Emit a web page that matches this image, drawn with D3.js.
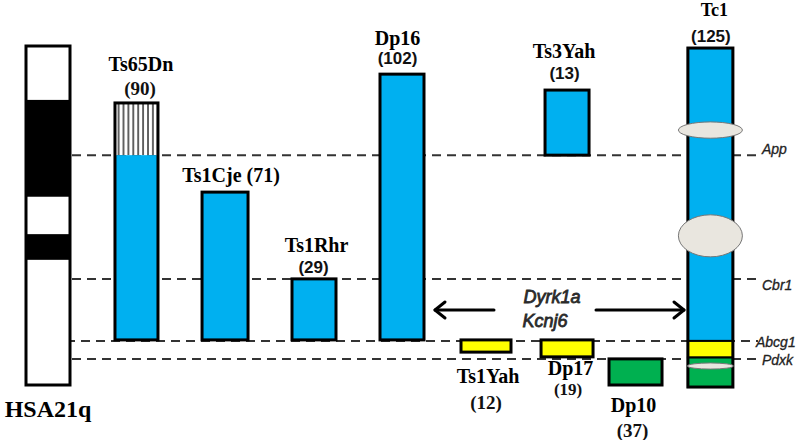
<!DOCTYPE html>
<html><head><meta charset="utf-8">
<script src="https://cdn.jsdelivr.net/npm/d3@7"></script>
<style>html,body{margin:0;padding:0;background:#fff}svg{display:block}</style>
</head><body>
<svg id="chart" width="800" height="440"></svg>
<script>
// ---------- DATA (relative position along HSA21q, 0 = top, 100 = telomere) ----------
const bandStart = [0, 15.9, 44.5, 55.5, 63.1];
const bandEnd   = [15.9, 44.5, 55.5, 63.1, 100];
const bandStain = ["gneg", "gpos", "gneg", "gpos", "gneg"];

const genes   = ["App", "Cbr1", "Abcg1", "Pdxk"];
const genePos = [32.2, 68.7, 87.0, 92.3];

const models     = ["Ts65Dn", "Ts1Cje", "Ts1Rhr", "Dp16", "Ts3Yah", "Tc1", "Ts1Yah", "Dp17", "Dp10"];
const geneCounts = [90, 71, 29, 102, 13, 125, 12, 19, 37];
const modelTrack = [17.06, 28.13, 39.25, 50.25, 70.88, 88.8, 60.75, 70.88, 79.44];
const regionStart= [16.8, 43.1, 68.7, 8.3, 13.0, 0.6, 86.7, 86.7, 92.3];
const regionEnd  = [86.7, 86.7, 86.7, 86.7, 32.2, 100.6, 90.3, 91.7, 100];

// segments (mouse chromosome origin of each trisomic piece)
const segModel = ["Ts65Dn", "Ts65Dn", "Ts1Cje", "Ts1Rhr", "Dp16", "Ts3Yah", "Tc1", "Tc1", "Tc1", "Ts1Yah", "Dp17", "Dp10"];
const segChr   = ["Mmu17cen", "Mmu16", "Mmu16", "Mmu16", "Mmu16", "Mmu16", "Mmu16", "Mmu17", "Mmu10", "Mmu17", "Mmu17", "Mmu10"];
const segStart = [16.8, 32.2, 43.1, 68.7, 8.3, 13.0, 0.6, 87.0, 91.9, 86.7, 86.7, 92.3];
const segEnd   = [32.2, 86.7, 86.7, 86.7, 86.7, 32.2, 87.0, 91.9, 100.6, 90.3, 91.7, 100];

// Tc1 deletions / rearrangements
const delPos  = [24.8, 56.0, 94.4];
const delHalf = [2.4, 6.2, 0.9];

const chromTrack = 6;
const chromLabel = "HSA21q";
const arrowGenes = ["Dyrk1a", "Kcnj6"];

// ---------- LAYOUT / STYLE ----------
const svg = d3.select("#chart");
const W = 800, H = 440;
const y = d3.scaleLinear().domain([0, 100]).range([46, 385]);
const x = d3.scaleLinear().domain([0, 100]).range([0, W]);
const serif = "'Liberation Serif','Times New Roman',serif";
const sans  = "'Liberation Sans',Arial,sans-serif";
const chrColor = {Mmu16: "#00b0f0", Mmu17: "#ffff00", Mmu10: "#00b050", Mmu17cen: "url(#hatch)"};
const stainColor = {gneg: "#ffffff", gpos: "#000000"};

const defs = svg.append("defs");
const pat = defs.append("pattern").attr("id", "hatch").attr("patternUnits", "userSpaceOnUse")
  .attr("width", 4.9).attr("height", 10);
pat.append("rect").attr("width", 4.9).attr("height", 10).attr("fill", "#fff");
pat.append("line").attr("x1", 1).attr("x2", 1).attr("y1", 0).attr("y2", 10)
  .attr("stroke", "#111").attr("stroke-width", 1.3);

// dashed gene lines
const lineStartX = [72, 72, 66, 72];
svg.append("g").selectAll("line").data(genes).join("line")
  .attr("x1", (d, i) => lineStartX[i]).attr("x2", 758)
  .attr("y1", (d, i) => y(genePos[i])).attr("y2", (d, i) => y(genePos[i]))
  .attr("stroke", "#333").attr("stroke-width", 2).attr("stroke-dasharray", "9,6");

// chromosome
const chromW = 44;
const cg = svg.append("g");
cg.selectAll("rect").data(bandStart).join("rect")
  .attr("x", x(chromTrack) - chromW / 2).attr("width", chromW)
  .attr("y", (d, i) => y(d)).attr("height", (d, i) => y(bandEnd[i]) - y(d))
  .attr("fill", (d, i) => stainColor[bandStain[i]]);
cg.append("rect").attr("x", x(chromTrack) - chromW / 2).attr("width", chromW)
  .attr("y", y(0)).attr("height", y(100) - y(0))
  .attr("fill", "none").attr("stroke", "#000").attr("stroke-width", 3);
svg.append("text").attr("x", x(chromTrack)).attr("y", 417).attr("text-anchor", "middle")
  .attr("font-family", serif).attr("font-weight", "bold").attr("font-size", 24).text(chromLabel);

// bar widths
const barW = {Ts65Dn: 43, Ts1Cje: 46, Ts1Rhr: 44, Dp16: 44, Ts3Yah: 44, Tc1: 45, Ts1Yah: 50, Dp17: 52, Dp10: 53};
const mIdx = m => models.indexOf(m);

// segments
svg.append("g").selectAll("rect").data(segModel).join("rect")
  .attr("x", m => x(modelTrack[mIdx(m)]) - barW[m] / 2).attr("width", m => barW[m])
  .attr("y", (m, i) => y(segStart[i])).attr("height", (m, i) => y(segEnd[i]) - y(segStart[i]))
  .attr("fill", (m, i) => chrColor[segChr[i]])
  .attr("stroke", "#000").attr("stroke-width", (m, i) => m === "Tc1" ? 2 : 0);

// outlines
svg.append("g").selectAll("rect").data(models).join("rect")
  .attr("x", (m, i) => x(modelTrack[i]) - barW[m] / 2).attr("width", m => barW[m])
  .attr("y", (m, i) => y(regionStart[i])).attr("height", (m, i) => y(regionEnd[i]) - y(regionStart[i]))
  .attr("fill", "none").attr("stroke", "#000").attr("stroke-width", 3);

// Tc1 deletions
const tc1 = mIdx("Tc1");
const delRx = [32, 32, 23];
svg.append("g").selectAll("ellipse").data(delPos).join("ellipse")
  .attr("cx", x(modelTrack[tc1])).attr("cy", d => y(d))
  .attr("rx", (d, i) => delRx[i]).attr("ry", (d, i) => y(delHalf[i]) - y(0))
  .attr("fill", "#e9e6df").attr("stroke", "#777").attr("stroke-width", 1);

// model labels: [nameDx, nameBaseline, countDx, countBaseline, countFont, inline]
const labelCfg = {
  Ts65Dn: [4.5, 71, 3.5, 95, "serif"],
  Ts1Cje: [6, 182, 0, 0, "serif", true],
  Ts1Rhr: [2.5, 252, -0.5, 273, "sans"],
  Dp16:   [-4.5, 45, -4.5, 64, "sans"],
  Ts3Yah: [-3, 58, -2.5, 79, "sans"],
  Tc1:    [4, 16, 0.5, 42, "sans"],
  Ts1Yah: [2, 383, 0, 409, "serif"],
  Dp17:   [3.5, 375, 1, 395, "serif"],
  Dp10:   [-2, 412, -3, 437, "serif"]
};
const lg = svg.append("g");
models.forEach((m, i) => {
  const c = labelCfg[m], cx = x(modelTrack[i]);
  if (c[5]) {
    lg.append("text").attr("x", cx + c[0]).attr("y", c[1]).attr("text-anchor", "middle")
      .attr("font-family", serif).attr("font-weight", "bold").attr("font-size", 20)
      .text(m + " (" + geneCounts[i] + ")");
    return;
  }
  lg.append("text").attr("x", cx + c[0]).attr("y", c[1]).attr("text-anchor", "middle")
    .attr("font-family", serif).attr("font-weight", "bold").attr("font-size", m === "Tc1" ? 18 : 20).text(m);
  lg.append("text").attr("x", cx + c[2]).attr("y", c[3]).attr("text-anchor", "middle")
    .attr("font-family", c[4] === "sans" ? sans : serif).attr("font-weight", "bold")
    .attr("font-size", c[4] === "sans" ? 17 : (m === "Dp17" ? 17 : 19)).attr("fill", "#111")
    .text("(" + geneCounts[i] + ")");
});

// gene names on the right
const geneLabelX = [762, 762, 756, 762];
const geneLabelY = [154, 290, 347, 365];
svg.append("g").selectAll("text").data(genes).join("text")
  .attr("x", (d, i) => geneLabelX[i]).attr("y", (d, i) => geneLabelY[i])
  .attr("font-family", sans).attr("font-style", "italic").attr("font-size", 14)
  .attr("fill", "#222").attr("stroke", "#222").attr("stroke-width", 0.3).text(d => d);

// Dyrk1a / Kcnj6 arrows
const ay = 310;
const ag = svg.append("g").attr("stroke", "#000").attr("stroke-width", 3).attr("fill", "none")
  .attr("stroke-linecap", "round").attr("stroke-linejoin", "round");
ag.append("line").attr("x1", 435).attr("x2", 494).attr("y1", ay).attr("y2", ay);
ag.append("path").attr("d", `M445,${ay - 8} L435,${ay} L445,${ay + 8}`);
ag.append("line").attr("x1", 596).attr("x2", 684).attr("y1", ay).attr("y2", ay);
ag.append("path").attr("d", `M674,${ay - 8} L684,${ay} L674,${ay + 8}`);
const agx = [552, 545], agy = [303, 327];
svg.append("g").selectAll("text").data(arrowGenes).join("text")
  .attr("x", (d, i) => agx[i]).attr("y", (d, i) => agy[i]).attr("text-anchor", "middle")
  .attr("font-family", sans).attr("font-style", "italic").attr("font-size", 18)
  .attr("fill", "#2a2a2a").attr("stroke", "#2a2a2a").attr("stroke-width", 0.8).text(d => d);
</script>
</body></html>
